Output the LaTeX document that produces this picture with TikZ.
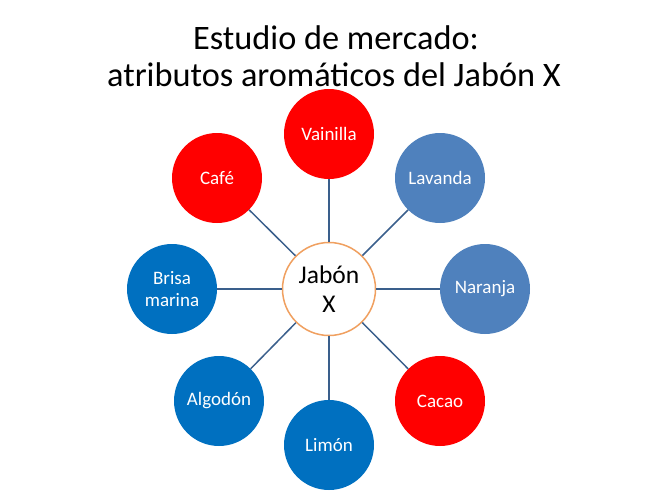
\documentclass[tikz,border=0pt]{standalone}
\usepackage{fontspec}
\setmainfont{Carlito}
\definecolor{rojo}{HTML}{FF0000}
\definecolor{azulA}{HTML}{4F81BD}
\definecolor{azulB}{HTML}{0070C0}
\definecolor{linea}{HTML}{3A5F8C}
\definecolor{naranjaB}{HTML}{F0A060}
\begin{document}
\begin{tikzpicture}[x=1pt,y=-1pt,
  hoja/.style={circle,minimum size=90pt,inner sep=0pt,text=white,align=center,
    font=\fontsize{19}{22}\selectfont},
  roja/.style={hoja,fill=rojo},
  azula/.style={hoja,fill=azulA},
  azulb/.style={hoja,fill=azulB},
  centro/.style={circle,minimum size=93pt,inner sep=0pt,draw=naranjaB,line width=1.5pt,fill=white,
    align=center,font=\fontsize{25.5}{29}\selectfont},
  titulo/.style={anchor=base,font=\fontsize{34.3}{40}\selectfont},
  enlace/.style={draw=linea,line width=1.5pt}]
\useasboundingbox (0,0) rectangle (656,495);
\node[titulo] (t1) at (336,50) {Estudio de mercado:};
\node[titulo] (t2) at (334,86) {atributos aromáticos del Jabón X};
\node[centro] (c) at (329,289) {Jabón\\X};
\node[roja]  (vai) at (329,134) {Vainilla};
\node[azula] (lav) at (440,178) {Lavanda};
\node[azula] (nar) at (485,289) {Naranja};
\node[roja]  (cac) at (440,401) {Cacao};
\node[azulb] (lim) at (329,445) {Limón};
\node[azulb] (alg) at (219,401) {Algodón};
\node[azulb] (bri) at (172,289) {Brisa\\marina};
\node[roja]  (caf) at (217,178) {Café};
\foreach \n in {vai,lav,nar,cac,lim,alg,bri,caf}
  \path[enlace] (c) -- (\n);
\end{tikzpicture}
\end{document}
